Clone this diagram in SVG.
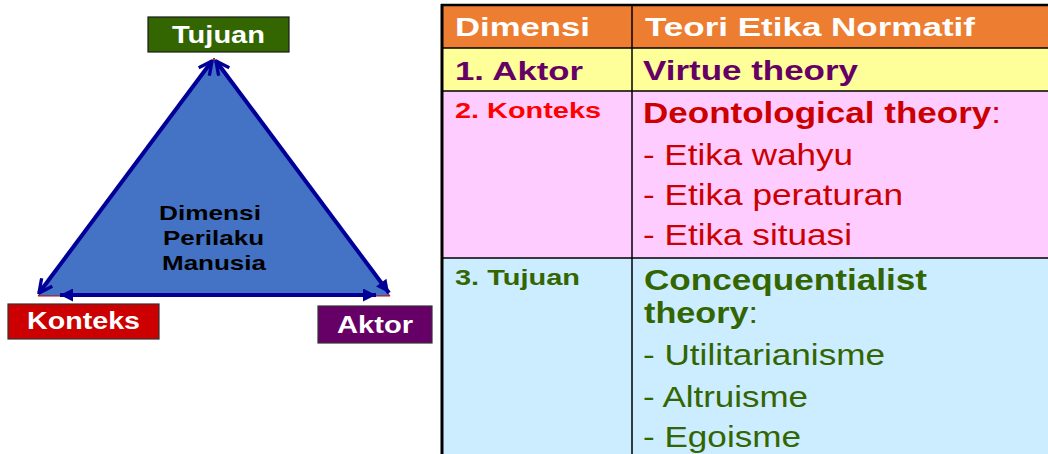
<svg xmlns="http://www.w3.org/2000/svg" width="1048" height="454" viewBox="0 0 1048 454">
  <style>
    text { font-family: "Liberation Sans", Arial, sans-serif; }
    .b { font-weight: bold; }
    .lbl { font-weight: bold; fill: #ffffff; font-size: 24px; }
    .core { font-weight: bold; fill: #000000; font-size: 21px; }
    .hd { font-weight: bold; fill: #ffffff; font-size: 26px; }
    .big { font-size: 29px; }
    .edge { stroke: #000099; stroke-width: 4; fill: none; }
    .grid { stroke: #000000; stroke-width: 1.5; }
  </style>
  <defs>
    <marker id="openHead" viewBox="0 0 12 12" refX="11" refY="6" markerWidth="16" markerHeight="16" markerUnits="userSpaceOnUse" orient="auto-start-reverse">
      <path d="M1,1 L11,6 L1,11" fill="none" stroke="#000099" stroke-width="2.5" stroke-linejoin="miter"/>
    </marker>
    <marker id="solidHead" viewBox="0 0 12 12" refX="12" refY="6" markerWidth="16" markerHeight="13" markerUnits="userSpaceOnUse" orient="auto-start-reverse">
      <path d="M0,0 L12,6 L0,12 Z" fill="#000099"/>
    </marker>
  </defs>

  <rect width="1048" height="454" fill="#ffffff"/>

  <!-- triangle body -->
  <g id="triangle">
    <polygon points="214,58 38,296 390,296" fill="#4472C4" stroke="#C00000" stroke-width="1"/>
    <text class="core" x="159" y="220" textLength="102" lengthAdjust="spacingAndGlyphs">Dimensi</text>
    <text class="core" x="163" y="245" textLength="101" lengthAdjust="spacingAndGlyphs">Perilaku</text>
    <text class="core" x="162" y="270" textLength="104" lengthAdjust="spacingAndGlyphs">Manusia</text>
  </g>

  <!-- two-way arrows along the triangle edges -->
  <g id="connectors">
    <line class="edge" x1="212" y1="61" x2="39" y2="293" marker-start="url(#openHead)" marker-end="url(#openHead)"/>
    <line class="edge" x1="216" y1="61" x2="389" y2="293" marker-start="url(#openHead)" marker-end="url(#solidHead)"/>
    <line class="edge" x1="60" y1="295" x2="376" y2="295" marker-start="url(#solidHead)" marker-end="url(#solidHead)"/>
  </g>

  <g id="tujuan">
    <rect x="148" y="17" width="141" height="35" fill="#336600" stroke="#1a1a1a" stroke-width="1.2"/>
    <text class="lbl" x="172" y="43" textLength="93" lengthAdjust="spacingAndGlyphs">Tujuan</text>
  </g>
  <g id="konteks">
    <rect x="8" y="304" width="151" height="35" fill="#CC0000" stroke="#333333" stroke-width="1.2"/>
    <text class="lbl" x="27" y="329" textLength="113" lengthAdjust="spacingAndGlyphs">Konteks</text>
  </g>
  <g id="aktor">
    <rect x="318" y="306" width="114" height="37" fill="#660066" stroke="#333333" stroke-width="1.2"/>
    <text class="lbl" x="337" y="333" textLength="76" lengthAdjust="spacingAndGlyphs">Aktor</text>
  </g>

  <!-- table -->
  <g id="table">
    <rect x="442" y="5" width="606" height="43" fill="#ED7D31"/>
    <rect x="442" y="48" width="606" height="43" fill="#FFFF99"/>
    <rect x="442" y="91" width="606" height="167" fill="#FFCCFF"/>
    <rect x="442" y="258" width="606" height="196" fill="#CCECFF"/>
    <line class="grid" x1="442" y1="48" x2="1048" y2="48"/>
    <line class="grid" x1="442" y1="91" x2="1048" y2="91"/>
    <line class="grid" x1="442" y1="258" x2="1048" y2="258"/>
    <line class="grid" x1="632" y1="5" x2="632" y2="454"/>
    <line x1="441" y1="5" x2="1048" y2="5" stroke="#000" stroke-width="2.5"/>
    <line x1="442" y1="4" x2="442" y2="454" stroke="#000" stroke-width="3"/>

    <text class="hd" x="455" y="36" textLength="135" lengthAdjust="spacingAndGlyphs">Dimensi</text>
    <text class="hd" x="645" y="36" textLength="330" lengthAdjust="spacingAndGlyphs">Teori Etika Normatif</text>

    <text class="b" x="455" y="80" font-size="26" fill="#660066" textLength="128" lengthAdjust="spacingAndGlyphs">1. Aktor</text>
    <text class="b" x="643" y="80" font-size="28" fill="#660066" textLength="215" lengthAdjust="spacingAndGlyphs">Virtue theory</text>

    <text class="b" x="455" y="118" font-size="22" fill="#FF0000" textLength="146" lengthAdjust="spacingAndGlyphs">2. Konteks</text>
    <text class="big" x="643" y="123" fill="#CC0000" textLength="358" lengthAdjust="spacingAndGlyphs"><tspan class="b">Deontological theory</tspan>:</text>
    <text class="big" x="643" y="165" fill="#CC0000" textLength="210" lengthAdjust="spacingAndGlyphs">- Etika wahyu</text>
    <text class="big" x="643" y="205" fill="#CC0000" textLength="260" lengthAdjust="spacingAndGlyphs">- Etika peraturan</text>
    <text class="big" x="643" y="245" fill="#CC0000" textLength="209" lengthAdjust="spacingAndGlyphs">- Etika situasi</text>

    <text class="b" x="455" y="285" font-size="22" fill="#336600" textLength="125" lengthAdjust="spacingAndGlyphs">3. Tujuan</text>
    <text class="big b" x="644" y="290" fill="#336600" textLength="283" lengthAdjust="spacingAndGlyphs">Concequentialist</text>
    <text class="big" x="644" y="323" fill="#336600" textLength="114" lengthAdjust="spacingAndGlyphs"><tspan class="b">theory</tspan>:</text>
    <text class="big" x="643" y="365" fill="#336600" textLength="242" lengthAdjust="spacingAndGlyphs">- Utilitarianisme</text>
    <text class="big" x="643" y="407" fill="#336600" textLength="165" lengthAdjust="spacingAndGlyphs">- Altruisme</text>
    <text class="big" x="643" y="447" fill="#336600" textLength="158" lengthAdjust="spacingAndGlyphs">- Egoisme</text>
  </g>
</svg>
